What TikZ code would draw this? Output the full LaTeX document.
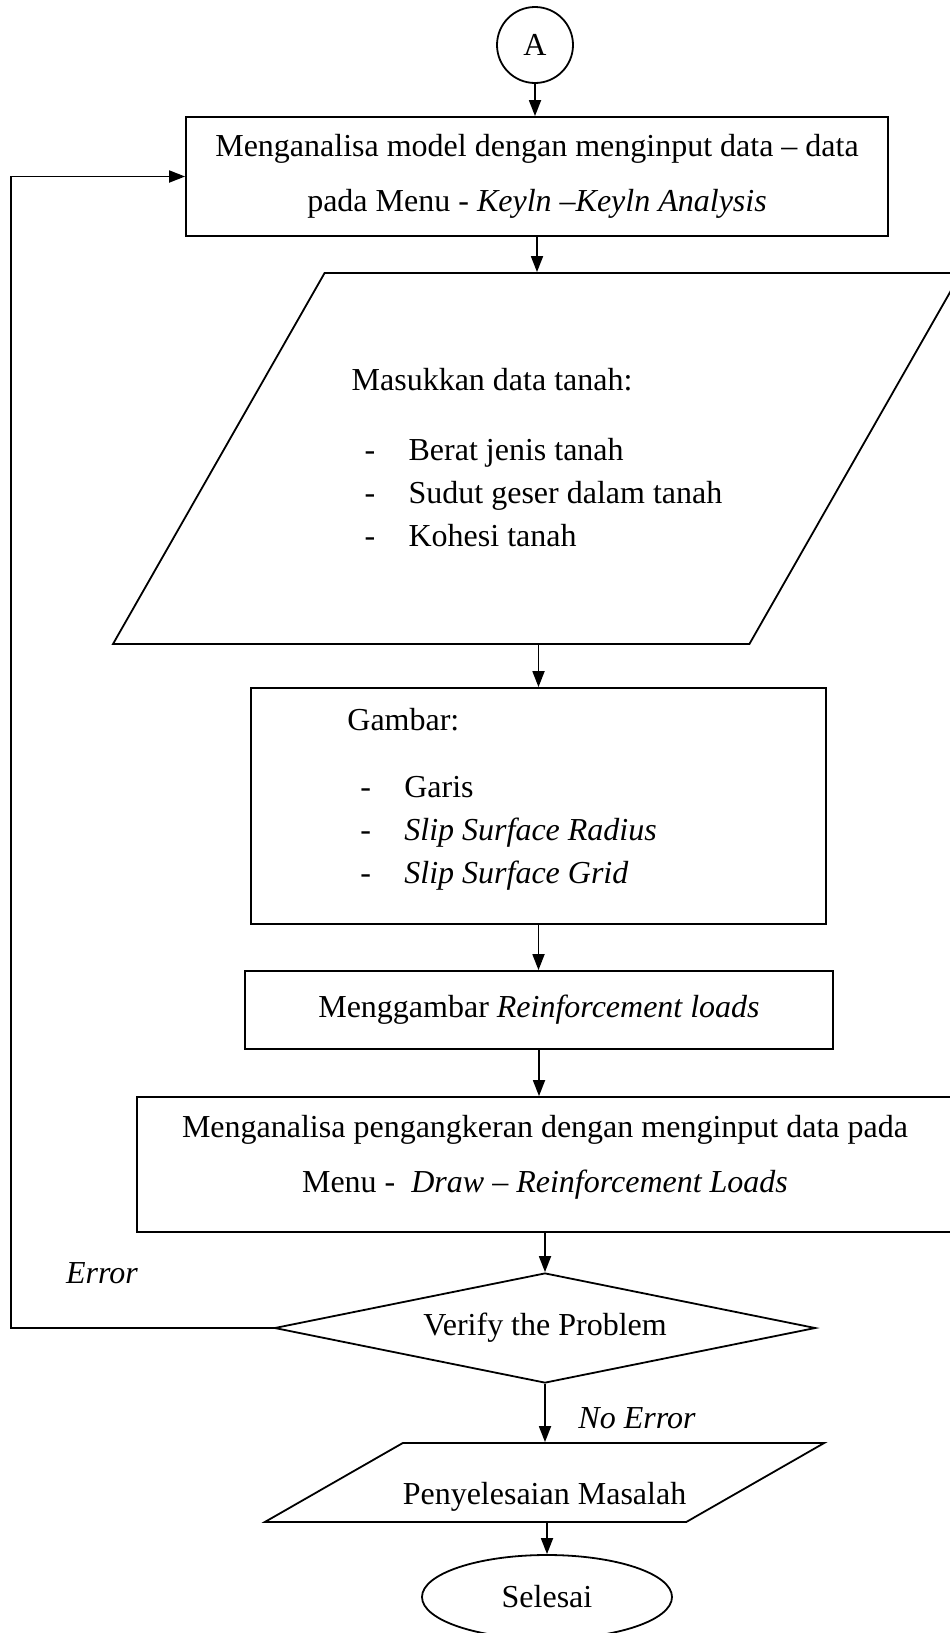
\documentclass[tikz,border=0pt]{standalone}
\usepackage{fontspec}
\setmainfont{Liberation Serif}
\usetikzlibrary{arrows.meta,shapes.geometric}

\newcommand{\dashitem}[1]{\makebox[28.5pt][l]{\hspace{6.5pt}-}#1}

\begin{document}
\begin{tikzpicture}[x=0.5pt, y=-0.5pt,
    flowbox/.style={draw, line width=0.9pt, align=center, inner sep=0pt, font=\fontsize{16}{27.5}\selectfont},
    datashape/.style={draw, trapezium, trapezium stretches body=true, line width=0.9pt, inner sep=0pt, font=\fontsize{16}{21.5}\selectfont},
    check/.style={draw, diamond, aspect=4.9, line width=0.9pt, inner sep=0pt, font=\fontsize{16}{19}\selectfont},
    terminal/.style={draw, ellipse, line width=0.9pt, inner sep=0pt, font=\fontsize{16}{19}\selectfont},
    connector/.style={draw, circle, line width=0.9pt, inner sep=0pt, font=\fontsize{16}{19}\selectfont},
    listtext/.style={align=left, inner sep=0pt, font=\fontsize{16}{21.5}\selectfont},
    lbl/.style={inner sep=0pt, font=\fontsize{16}{19}\selectfont\itshape},
    arrow/.style={-{Triangle[length=8pt, width=6pt]}, line width=0.9pt}
]

\useasboundingbox (0,0) rectangle (949,1633);

\node[connector, minimum size=38pt] (start) at (535,45) {A};
\node[flowbox, minimum width=351pt, minimum height=59.5pt] (model) at (537,176.5) {Menganalisa model dengan menginput data – data\\pada Menu - \textit{Keyln –Keyln Analysis}};
\node[datashape, trapezium left angle=60.3, trapezium right angle=119.7, minimum width=424pt, text height=98pt, text depth=87.5pt] (tanah) at (537,458.5) {\begin{tabular}{@{}l@{}}Masukkan data tanah:\\[13.5pt]\dashitem{Berat jenis tanah}\\\dashitem{Sudut geser dalam tanah}\\\dashitem{Kohesi tanah}\end{tabular}};
\node[flowbox, minimum width=287.5pt, minimum height=118pt] (gambar) at (538.5,806) {};
\node[listtext, anchor=north west] (gambarlist) at (347,708) {Gambar:\\[12pt]\dashitem{Garis}\\\dashitem{\textit{Slip Surface Radius}}\\\dashitem{\textit{Slip Surface Grid}}};
\node[flowbox, minimum width=294pt, minimum height=39pt] (beban) at (539,1010) {Menggambar \textit{Reinforcement loads}};
\node[flowbox, minimum width=408pt, text height=32.75pt, text depth=34.75pt] (angkur) at (545,1164.5) {\begin{tabular}{@{}c@{}}Menganalisa pengangkeran dengan menginput data pada\\Menu -\ \ \textit{Draw – Reinforcement Loads}\end{tabular}};
\node[check, minimum width=270.5pt, minimum height=55pt] (verify) at (545,1328) {Verify the Problem};
\node[datashape, trapezium left angle=29.8, trapezium right angle=150.2, minimum width=279.5pt, text height=30.5pt, text depth=9pt] (solusi) at (544.5,1482.5) {Penyelesaian Masalah};
\node[terminal, minimum width=125pt, minimum height=42pt] (end) at (547,1597) {Selesai};

\node[lbl] (err) at (102,1273) {Error};
\node[lbl] (noerr) at (637,1418) {No Error};
\coordinate (back) at (11,1328);

\draw[arrow] (start.south) -- (start.south |- model.north);
\draw[arrow] (model.south) -- (model.south |- tanah.north);
\draw[arrow] (gambar.north |- tanah.south) -- (gambar.north);
\draw[arrow] (gambar.south) -- (gambar.south |- beban.north);
\draw[arrow] (beban.south) -- (beban.south |- angkur.north);
\draw[arrow] (angkur.south) -- (verify.north);
\draw[arrow] (verify.south) -- (verify.south |- solusi.north);
\draw[arrow] (end.north |- solusi.south) -- (end.north);
\draw[arrow] (verify.west) -- (back) |- (model.west);
\end{tikzpicture}
\end{document}
